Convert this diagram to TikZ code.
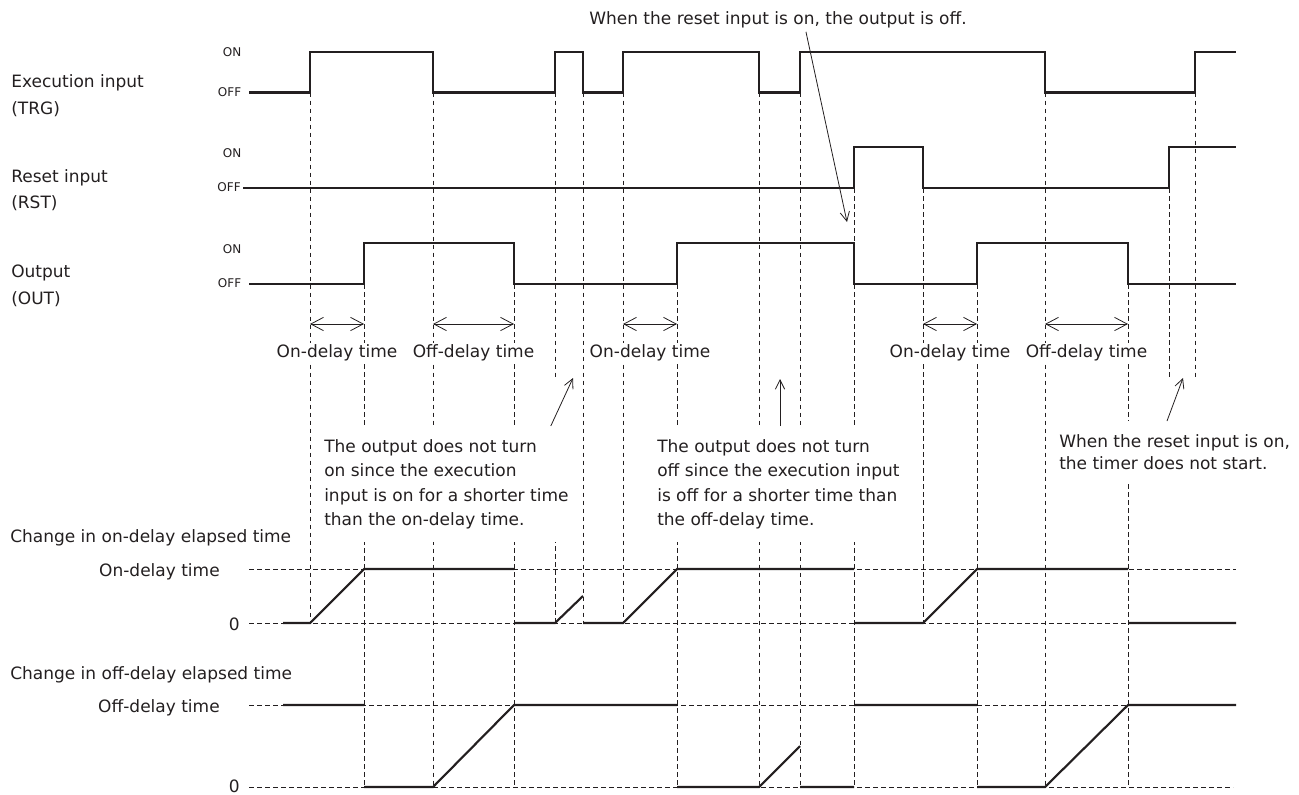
\documentclass[tikz,border=0pt]{standalone}
\usepackage{fontspec}
\setmainfont{DejaVu Sans}
\usepackage{tikz}
\usetikzlibrary{arrows.meta}
\definecolor{ink}{HTML}{231F20}

\begin{document}
\begin{tikzpicture}[x=0.75pt,y=-0.75pt,
  wave/.style={ink,line width=1.6pt},
  guide/.style={ink,line width=0.6pt,dash pattern=on 3.5pt off 2.5pt},
  dim/.style={ink,line width=0.6pt,{Straight Barb[length=9.5pt,width=10pt]}-{Straight Barb[length=9.5pt,width=10pt]}},
  pointer/.style={ink,line width=0.6pt,-{Straight Barb[length=7pt,width=7pt]}},
  txt/.style={ink,inner sep=0pt,font=\fontsize{12.75}{18.4}\selectfont},
  sig/.style={txt,align=left,anchor=north west,font=\fontsize{12.75}{20}\selectfont},
  lvl/.style={ink,inner sep=0pt,anchor=east,font=\fontsize{9}{11}\selectfont},
  note/.style={txt,align=left,anchor=north west,fill=white,inner xsep=3pt,inner ysep=9.75pt}]
\useasboundingbox (0,0) rectangle (1299,794);

\node[sig] (trg) at (11,74.5) {Execution input\\(TRG)};
\node[sig] (rst) at (11,169) {Reset input\\(RST)};
\node[sig] (out) at (11,265) {Output\\(OUT)};
\node[lvl] (trgon) at (241.5,52) {ON};
\node[lvl] (trgoff) at (241.5,92.5) {OFF};
\node[lvl] (rston) at (241.5,153) {ON};
\node[lvl] (rstoff) at (241,187) {OFF};
\node[lvl] (outon) at (241.5,249) {ON};
\node[lvl] (outoff) at (241.5,283) {OFF};

\foreach \x/\a/\b in {310/92.5/623,364/284/787,433/92.5/787,514/284/787,555/92.5/378,555/426/623,583/92.5/623,623/92.5/623,677/284/787,759/92.5/787,800/92.5/787,854/188/787,923/188/623,977/284/787,1045/92.5/787,1128/284/787,1169/188/378,1195/92.5/378}
  \draw[guide] (\x,\a) -- (\x,\b);
\foreach \y in {569,623,705}
  \draw[guide] (249,\y) -- (1236,\y);
\draw[guide] (249,787) -- (1233,787);

\draw[wave] (249,92.5) -| (310,52) -| (433,92.5) -| (555,52) -| (583,92.5) -| (623,52) -| (759,92.5) -| (800,52) -| (1045,92.5) -| (1195,52) -- (1236,52);
\draw[wave] (243,188) -| (854,147) -| (923,188) -| (1169,147) -- (1236,147);
\draw[wave] (249,284) -| (364,243) -| (514,284) -| (677,243) -| (854,284) -| (977,243) -| (1128,284) -- (1236,284);

\draw[wave] (283,623) -- (310,623) -- (364,569) -- (514,569) (514,623) -- (555,623) -- (583,596) (583,623) -- (623,623) -- (677,569) -- (854,569) (854,623) -- (923,623) -- (977,569) -- (1128,569) (1128,623) -- (1236,623);
\draw[wave] (283,705) -- (364,705) (364,787) -- (433,787) -- (514,705) -- (677,705) (677,787) -- (759,787) -- (800,746) (800,787) -- (854,787) (854,705) -- (977,705) (977,787) -- (1045,787) -- (1128,705) -- (1236,705);

\foreach \a/\b/\t [count=\i] in {310/364/On-delay time,433/514/Off-delay time,623/677/On-delay time,923/977/On-delay time,1045/1128/Off-delay time}{
  \draw[dim] (\a,324) -- (\b,324);
  \node[txt,fill=white,inner sep=1pt] (dt\i) at ({(\a+\b)/2},353) {\t};
}

\node[txt,anchor=base west] (chon) at (10,542.7) {Change in on-delay elapsed time};
\node[txt,anchor=base east] (ontime) at (220,576.7) {On-delay time};
\node[txt,anchor=base east] (onzero) at (240,630) {0};
\node[txt,anchor=base west] (choff) at (10,679.3) {Change in off-delay elapsed time};
\node[txt,anchor=base east] (offtime) at (220,712.7) {Off-delay time};
\node[txt,anchor=base east] (offzero) at (240,792.5) {0};

\node[txt,anchor=base west] (note0) at (589,24) {When the reset input is on, the output is off.};
\node[note] (note1) at (320,426) {The output does not turn\\on since the execution\\input is on for a shorter time\\than the on-delay time.};
\node[note] (note2) at (653,426) {The output does not turn\\off since the execution input\\is off for a shorter time than\\the off-delay time.};
\node[note,font=\fontsize{12.75}{17}\selectfont] (note3) at (1055,421) {When the reset input is on,\\the timer does not start.};

\coordinate (c0) at (847,222);
\coordinate (c1) at (573,378);
\coordinate (c2) at (780,379);
\coordinate (c3) at (1183,378);
\draw[pointer] ([xshift=21pt,yshift=-3pt]note0.south) -- (c0);
\draw[pointer] ([xshift=-16.5pt]note1.north east) -- (c1);
\draw[pointer] (c2 |- note2.north) -- (c2);
\draw[pointer] ([xshift=84pt]note3.north west) -- (c3);
\end{tikzpicture}
\end{document}
